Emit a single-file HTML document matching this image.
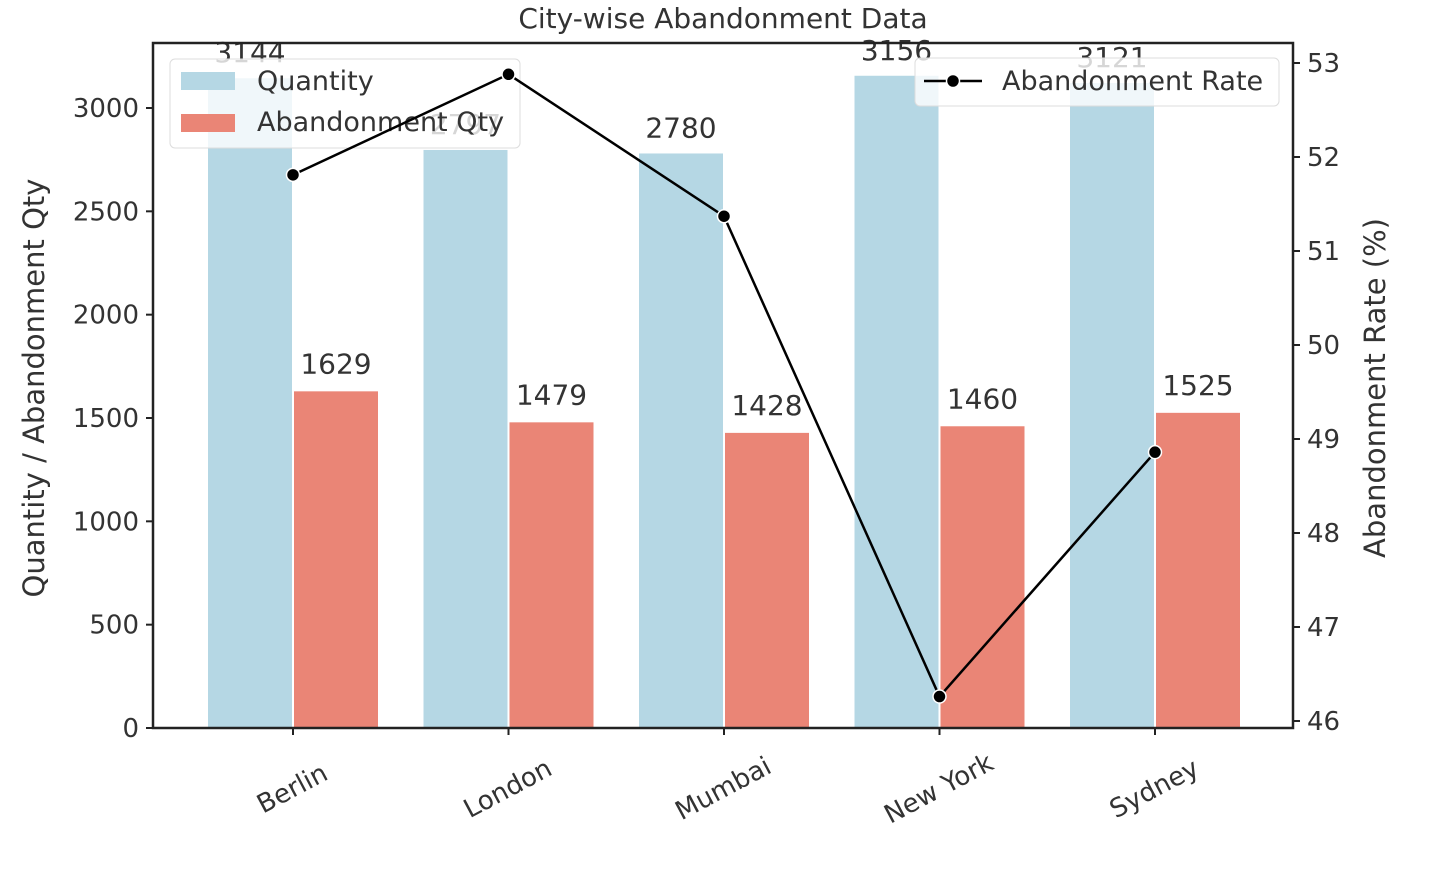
<!DOCTYPE html>
<html><head><meta charset="utf-8"><style>
body{margin:0;background:#fff;}
svg text{font-family:"DejaVu Sans","Liberation Sans",sans-serif;fill:#333;}
</style></head><body>
<svg id="chart" width="1434" height="868" xmlns="http://www.w3.org/2000/svg">
<text x="723" y="28" font-size="28" text-anchor="middle">City-wise Abandonment Data</text>
<g id="bars"></g>
<g>
<rect x="170" y="59" width="350" height="89" rx="5" fill="#fff" fill-opacity="0.8" stroke="#ddd"/>
<rect x="181" y="72" width="54" height="18" fill="#b5d7e4"/>
<text x="257" y="90" font-size="27">Quantity</text>
<rect x="181" y="114" width="54" height="18" fill="#ea8576"/>
<text x="257" y="131" font-size="27">Abandonment Qty</text>
</g>
<g id="line"></g><g id="axes"></g>
<text x="0" y="0" font-size="29" text-anchor="middle" transform="translate(44 388) rotate(-90)">Quantity / Abandonment Qty</text>
<text x="0" y="0" font-size="29" text-anchor="middle" transform="translate(1385 388) rotate(-90)">Abandonment Rate (%)</text>
<g>
<rect x="915" y="58" width="364" height="48" rx="5" fill="#fff" fill-opacity="0.8" stroke="#ddd"/>
<line x1="924" y1="81" x2="982" y2="81" stroke="#000" stroke-width="2.5"/>
<circle cx="953" cy="81" r="6.5" fill="#000" stroke="#fff" stroke-width="1.5"/>
<text x="1002" y="90" font-size="27">Abandonment Rate</text>
</g>
</svg>
<script>
const cities=["Berlin","London","Mumbai","New York","Sydney"];
const quantity=[3144,2797,2780,3156,3121];
const abandonQty=[1629,1479,1428,1460,1525];
const rates=[51.81,52.88,51.37,46.26,48.86];
const leftTicks=[0,500,1000,1500,2000,2500,3000];
const rightTicks=[46,47,48,49,50,51,52,53];
const L=153,R=1293,T=43,B=728;
const yL=v=>B-v*(620/3000);
const yR=v=>721-(v-46)*94;
const xC=i=>293+i*215.5;
const NS="http://www.w3.org/2000/svg";
function mk(tag,attrs,parent,text){const e=document.createElementNS(NS,tag);for(const k in attrs)e.setAttribute(k,attrs[k]);if(text!==undefined)e.textContent=text;document.getElementById(parent).appendChild(e);return e;}
cities.forEach((c,i)=>{
 let e=mk("rect",{x:xC(i)-85,y:yL(quantity[i]),width:84,height:B-yL(quantity[i]),fill:"#b5d7e4"},"bars");
 
 
 e=mk("rect",{x:xC(i)+1,y:yL(abandonQty[i]),width:84,height:B-yL(abandonQty[i]),fill:"#ea8576"},"bars");
 
 
 e=mk("text",{x:xC(i)-43,y:yL(quantity[i])-16,"font-size":28,"text-anchor":"middle"},"bars",quantity[i]);
 
 
 e=mk("text",{x:xC(i)+43,y:yL(abandonQty[i])-18,"font-size":28,"text-anchor":"middle"},"bars",abandonQty[i]);
 
 
 e=mk("text",{x:xC(i),y:797,"font-size":26,"text-anchor":"middle",transform:`rotate(-28 ${xC(i)} 790)`},"axes",c);
 
 
 e=mk("line",{x1:xC(i),x2:xC(i),y1:B,y2:B+7,stroke:"#222","stroke-width":2},"axes");
 
 
});
let pts=rates.map((r,i)=>xC(i)+","+yR(r)).join(" ");
let pl=mk("polyline",{points:pts,fill:"none",stroke:"#000","stroke-width":2.5},"line");


rates.forEach((r,i)=>{let e=mk("circle",{cx:xC(i),cy:yR(r),r:6.5,fill:"#000",stroke:"#fff","stroke-width":1.5},"line");
 
 });
leftTicks.forEach(t=>{let y=yL(t);
 let e=mk("line",{x1:L-7,x2:L,y1:y,y2:y,stroke:"#222","stroke-width":2},"axes");
 
 
 e=mk("text",{x:L-14,y:y+9,"font-size":26,"text-anchor":"end"},"axes",t);
 
 });
rightTicks.forEach(t=>{let y=yR(t);
 let e=mk("line",{x1:R,x2:R+7,y1:y,y2:y,stroke:"#222","stroke-width":2},"axes");
 
 
 e=mk("text",{x:R+14,y:y+9,"font-size":26},"axes",t);
 
 });
let fr=mk("rect",{x:L,y:T,width:R-L,height:B-T,fill:"none",stroke:"#222","stroke-width":2.5},"axes");


</script>
</body></html>
